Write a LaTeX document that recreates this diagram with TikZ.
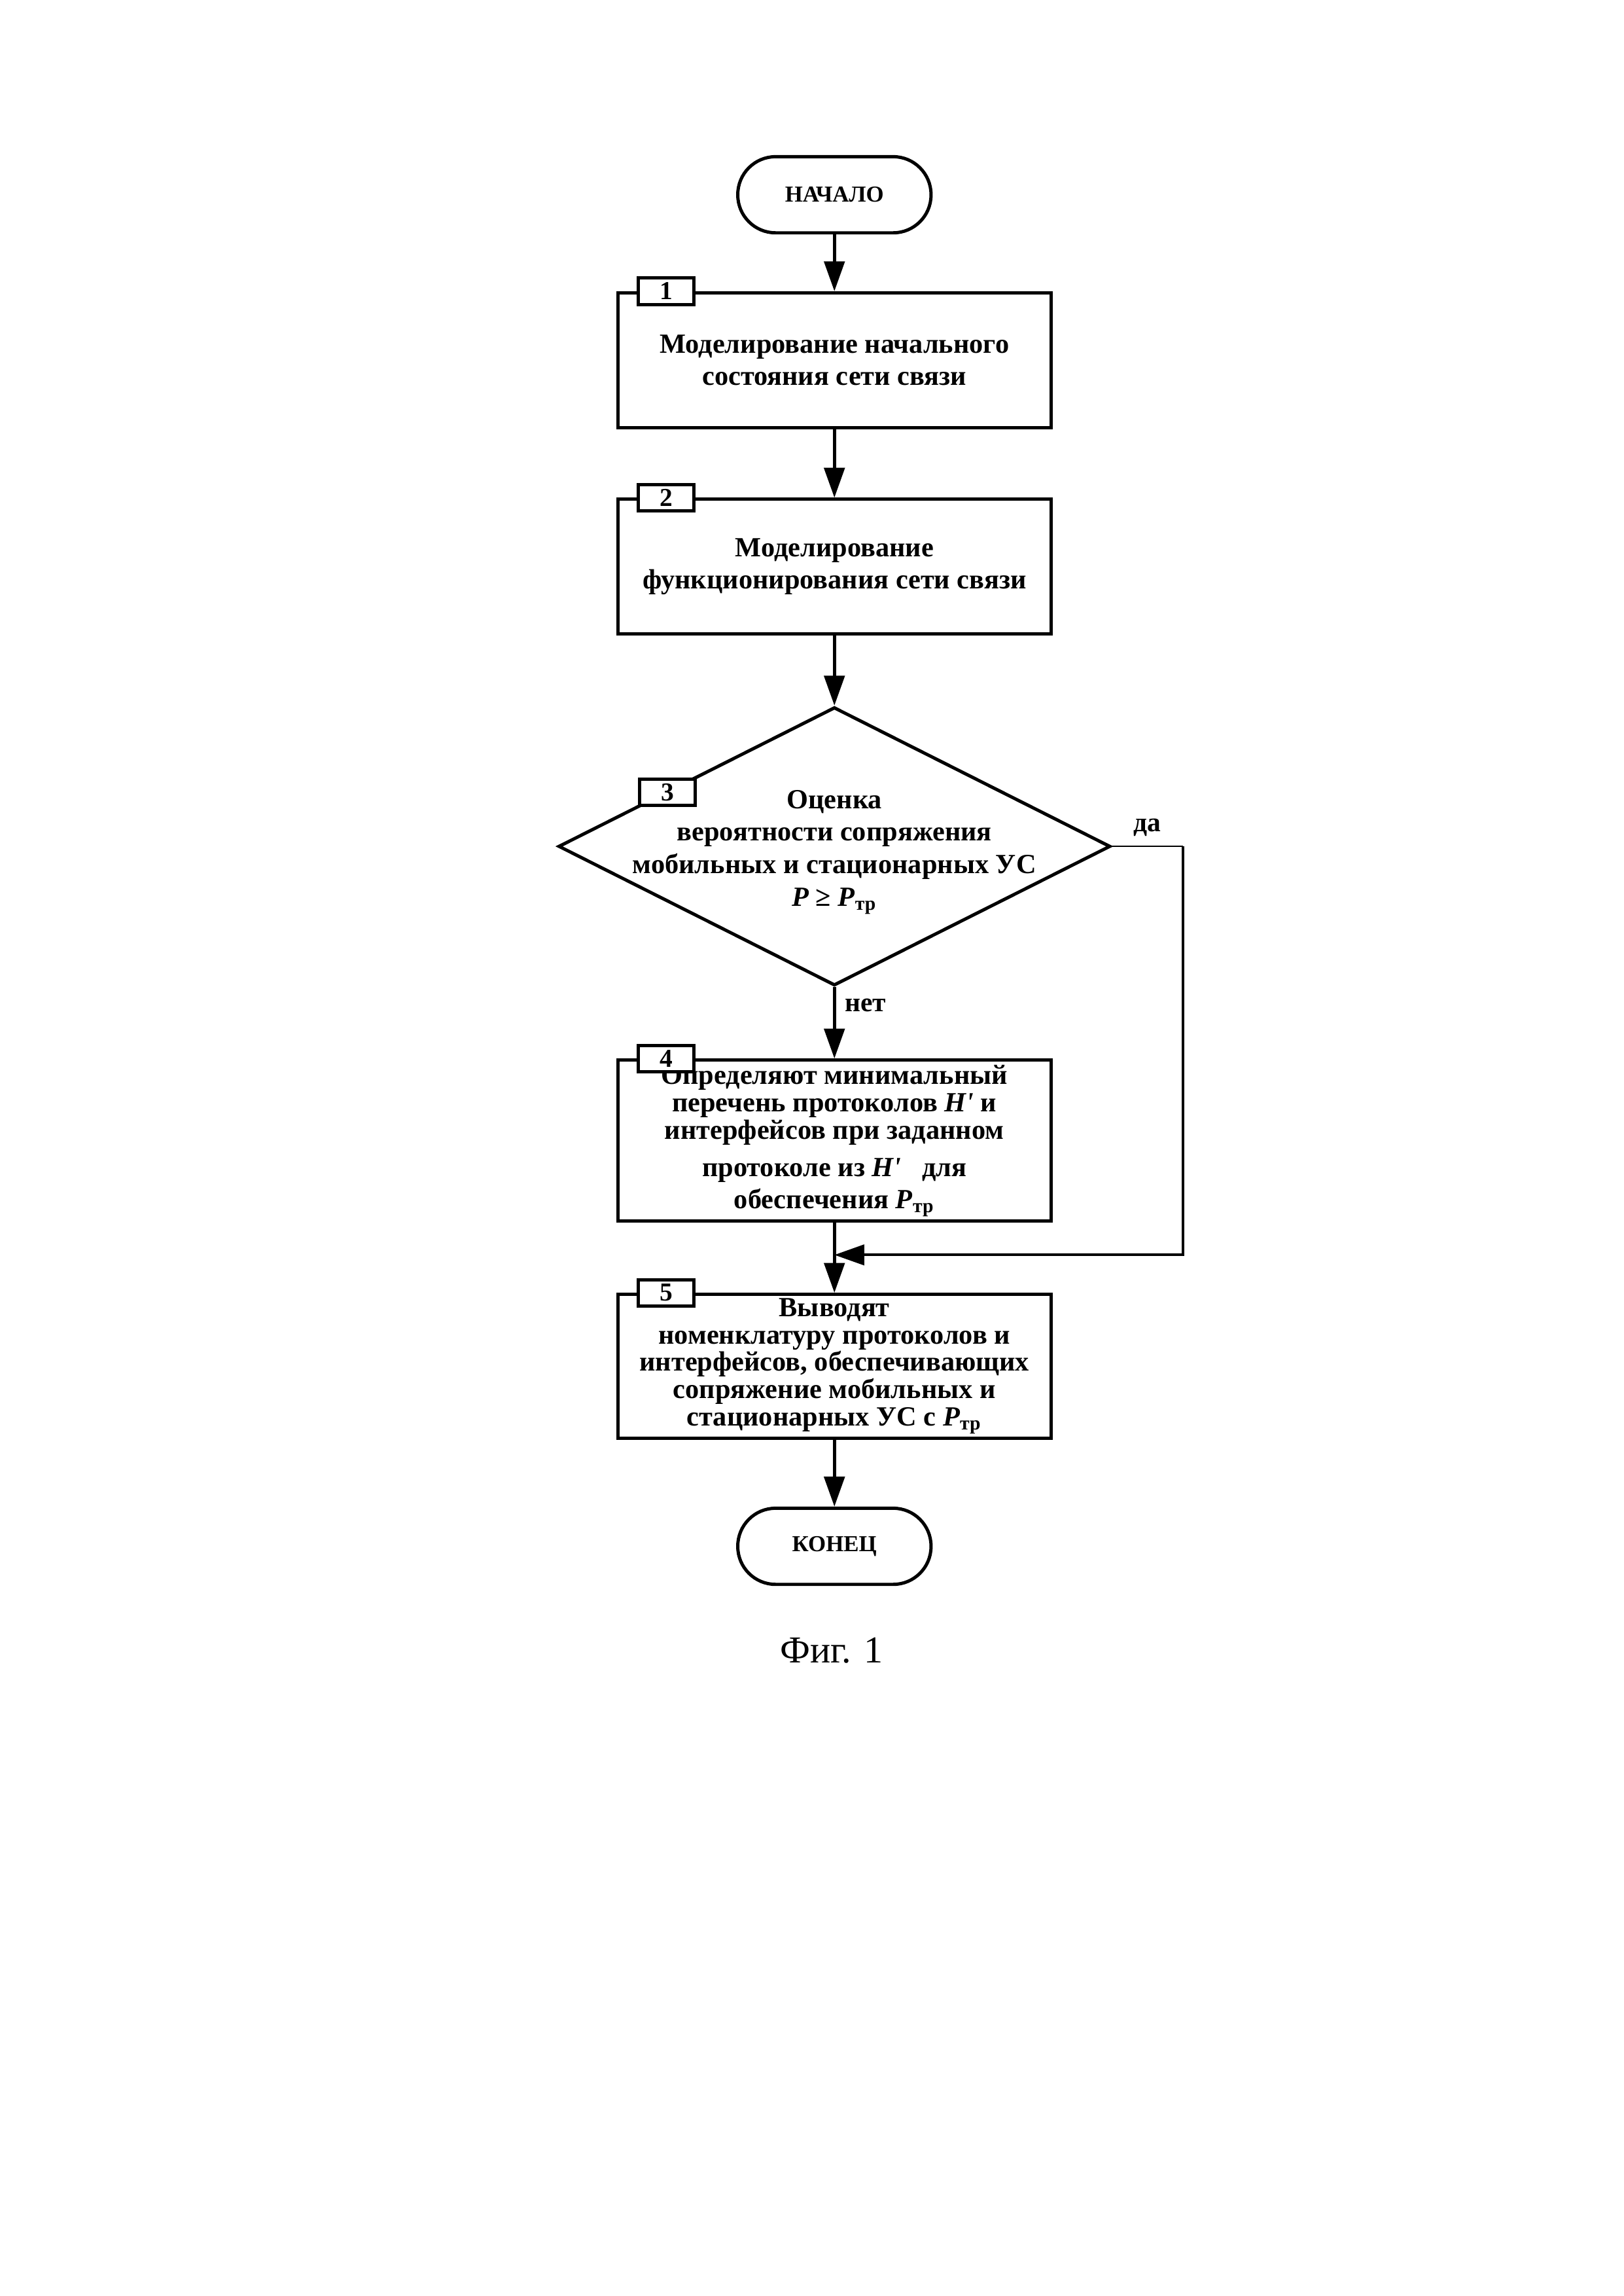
\documentclass[tikz,border=0pt]{standalone}
\usepackage{fontspec}
\setmainfont{Liberation Serif}
\usetikzlibrary{shapes.geometric,arrows.meta,positioning}

\tikzset{
	block/.style = {draw, line width = 1.2pt, minimum width = 5.6cm, inner sep = 0pt,
		align = center, font = \bfseries\fontsize{10.2}{11.8}\selectfont},
	term/.style = {draw, line width = 1.2pt, rounded corners = 0.49cm, minimum width = 2.5cm,
		minimum height = 0.985cm, font = \bfseries\fontsize{8.4}{9.6}\selectfont},
	decision/.style = {draw, diamond, line width = 1.2pt, minimum width = 7.14cm,
		minimum height = 3.6cm, inner sep = 0pt},
	dtext/.style = {align = center, inner sep = 0pt, font = \bfseries\fontsize{10.2}{12}\selectfont},
	tag/.style = {draw, fill = white, line width = 1.2pt, minimum width = 0.72cm,
		minimum height = 0.34cm, inner sep = 0pt, font = \bfseries\fontsize{9.5}{10}\selectfont},
	lbl/.style = {font = \bfseries\fontsize{10}{12}\selectfont},
	flow/.style = {line width = 1.2pt, -{Triangle[length = 11pt, width = 7.5pt]}}
}

\newcommand{\Ptr}{\textit{P}\textsubscript{тр}}
\newcommand{\Hpr}{\textit{H\textquotesingle}}

\begin{document}
\begin{tikzpicture}[x = 0.018936cm, y = -0.018936cm]
	\useasboundingbox (0,0) rectangle (1109,1568);

	\node[term] (start) at (570,133) {НАЧАЛО};
	\node[block, minimum height = 1.742cm] (b1) at (570,246)
		{Моделирование начального\\состояния сети связи};
	\node[block, minimum height = 1.742cm] (b2) at (570,387)
		{Моделирование\\функционирования сети связи};
	\node[decision] (d3) at (570,578) {};
	\node[dtext] (d3txt) at (570,582)
		{Оценка\\вероятности сопряжения\\мобильных и стационарных УС\\\textit{P} ≥ \Ptr};
	\node[block, minimum height = 2.083cm, font = \bfseries\fontsize{10.2}{10.2}\selectfont] (b4) at (570,779)
		{Определяют минимальный\\перечень протоколов \Hpr{} и\\интерфейсов при заданном\\[3.3pt]
		протоколе из \Hpr\ \ \ для\\[1.6pt]обеспечения \Ptr};
	\node[block, minimum height = 1.856cm, font = \bfseries\fontsize{10.2}{10}\selectfont] (b5) at (570,933)
		{Выводят\\номенклатуру протоколов и\\интерфейсов, обеспечивающих\\сопряжение мобильных и\\
		стационарных УС с \Ptr};
	\node[term] (end) at (570,1056) {КОНЕЦ};
	\node[font = \fontsize{14}{16}\selectfont] (fig) at (568,1127) {Фиг. 1};

	% номера блоков
	\node[tag] (t1) at ([xshift = 0.645cm]b1.north west) {1};
	\node[tag] (t2) at ([xshift = 0.645cm]b2.north west) {2};
	\node[tag] (t3) at (456,541) {3};
	\node[tag] (t4) at ([xshift = 0.645cm]b4.north west) {4};
	\node[tag] (t5) at ([xshift = 0.645cm]b5.north west) {5};

	\coordinate (yes) at (808,578);
	\coordinate (join) at (570,857);

	\draw[flow] (start) -- (b1);
	\draw[flow] (b1) -- (b2);
	\draw[flow] (b2) -- (d3);
	\draw[flow] (d3.south) -- node[lbl, right, pos = 0.25]{нет} (b4.north);
	\draw[line width = 0.6pt] (d3.east) -- node[lbl, above]{да} (yes);
	\draw[flow, line width = 1pt] (yes) |- (join);
	\draw[flow] (b4) -- (b5);
	\draw[flow] (b5) -- (end);
\end{tikzpicture}
\end{document}
